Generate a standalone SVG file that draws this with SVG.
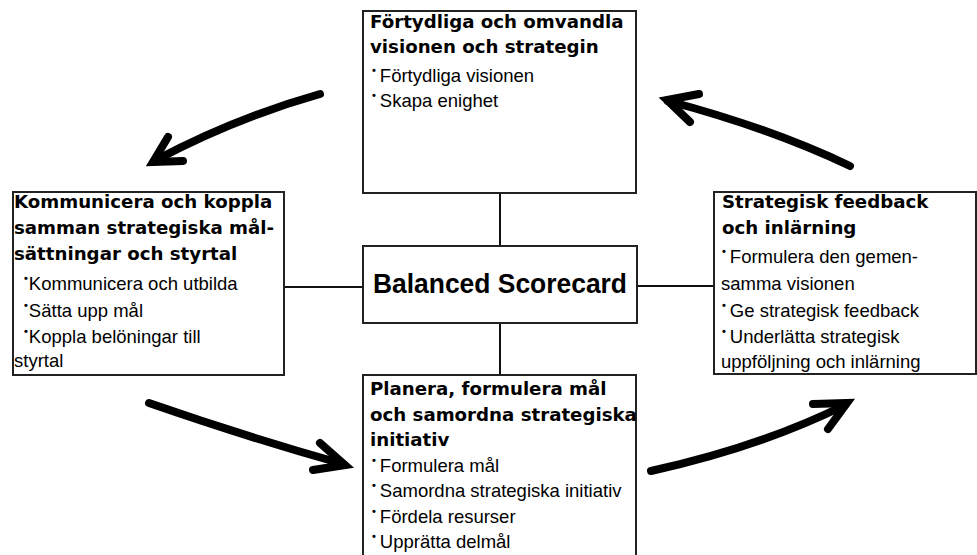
<svg xmlns="http://www.w3.org/2000/svg" width="977" height="555" viewBox="0 0 977 555">
<style>
.box{fill:#fff;stroke:#222;stroke-width:2}
.ln{stroke:#111;stroke-width:2;fill:none}
.t{font-family:"DejaVu Sans",sans-serif;font-weight:bold;font-size:18.2px;fill:#000}
.b{font-family:"Liberation Sans",Arial,sans-serif;font-size:18.5px;fill:#000}
.d{font-size:11px;font-weight:bold}
.bsc{font-family:"Liberation Sans",Arial,sans-serif;font-weight:bold;font-size:27px;fill:#000}
.arr{stroke:#000;stroke-width:8;fill:none;stroke-linecap:round;stroke-linejoin:miter}
</style>
<rect width="977" height="555" fill="#fff"/>
<g id="connectors">
<line class="ln" x1="500" y1="193" x2="500" y2="246"/>
<line class="ln" x1="500" y1="323" x2="500" y2="375"/>
<line class="ln" x1="284" y1="287" x2="363" y2="287"/>
<line class="ln" x1="637" y1="286" x2="714" y2="286"/>
<path class="arr" d="M320,94 Q235,118 156,160"/>
<polyline class="arr" points="168,137 153,162 183,161"/>
<path class="arr" d="M850,166 Q770,128 668,101"/>
<polyline class="arr" points="699,94 667,100 690,122"/>
<path class="arr" d="M149,403 Q250,438 343,464"/>
<polyline class="arr" points="320,443 345,465 313,470"/>
<path class="arr" d="M651,471 Q760,447 845,405"/>
<polyline class="arr" points="813,404 847,403 828,429"/>
</g>
<g id="top">
<rect class="box" x="363" y="11" width="273" height="182"/>
<text class="t" x="370" y="28">Förtydliga och omvandla</text>
<text class="t" x="370" y="53">visionen och strategin</text>
<text class="b" x="372" y="82"><tspan class="d" dy="-8">•</tspan><tspan dy="8" dx="4">Förtydliga visionen</tspan></text>
<text class="b" x="372" y="107"><tspan class="d" dy="-8">•</tspan><tspan dy="8" dx="4">Skapa enighet</tspan></text>
</g>
<g id="center">
<rect class="box" x="363" y="246" width="274" height="77"/>
<text class="bsc" x="373" y="293" textLength="254" lengthAdjust="spacingAndGlyphs">Balanced Scorecard</text>
</g>
<g id="left">
<rect class="box" x="13" y="192" width="271" height="183"/>
<text class="t" x="14" y="208">Kommunicera och koppla</text>
<text class="t" x="14" y="234">samman strategiska mål-</text>
<text class="t" x="14" y="260">sättningar och styrtal</text>
<text class="b" x="24" y="290"><tspan class="d" dy="-8">•</tspan><tspan dy="8" dx="1">Kommunicera och utbilda</tspan></text>
<text class="b" x="24" y="317"><tspan class="d" dy="-8">•</tspan><tspan dy="8" dx="1">Sätta upp mål</tspan></text>
<text class="b" x="24" y="343"><tspan class="d" dy="-8">•</tspan><tspan dy="8" dx="1">Koppla belöningar till</tspan></text>
<text class="b" x="14" y="367">styrtal</text>
</g>
<g id="right">
<rect class="box" x="714" y="192" width="262" height="182"/>
<text class="t" x="722" y="208">Strategisk feedback</text>
<text class="t" x="722" y="234">och inlärning</text>
<text class="b" x="722" y="263"><tspan class="d" dy="-8">•</tspan><tspan dy="8" dx="4">Formulera den gemen-</tspan></text>
<text class="b" x="721" y="290">samma visionen</text>
<text class="b" x="722" y="317"><tspan class="d" dy="-8">•</tspan><tspan dy="8" dx="4">Ge strategisk feedback</tspan></text>
<text class="b" x="722" y="343"><tspan class="d" dy="-8">•</tspan><tspan dy="8" dx="4">Underlätta strategisk</tspan></text>
<text class="b" x="721" y="368">uppföljning och inlärning</text>
</g>
<g id="bottom">
<rect class="box" x="363" y="375" width="273" height="190"/>
<text class="t" x="370" y="395">Planera, formulera mål</text>
<text class="t" x="370" y="421">och samordna strategiska</text>
<text class="t" x="370" y="446">initiativ</text>
<text class="b" x="372" y="472"><tspan class="d" dy="-8">•</tspan><tspan dy="8" dx="4">Formulera mål</tspan></text>
<text class="b" x="372" y="497"><tspan class="d" dy="-8">•</tspan><tspan dy="8" dx="4">Samordna strategiska initiativ</tspan></text>
<text class="b" x="372" y="523"><tspan class="d" dy="-8">•</tspan><tspan dy="8" dx="4">Fördela resurser</tspan></text>
<text class="b" x="372" y="548"><tspan class="d" dy="-8">•</tspan><tspan dy="8" dx="4">Upprätta delmål</tspan></text>
</g>
</svg>
